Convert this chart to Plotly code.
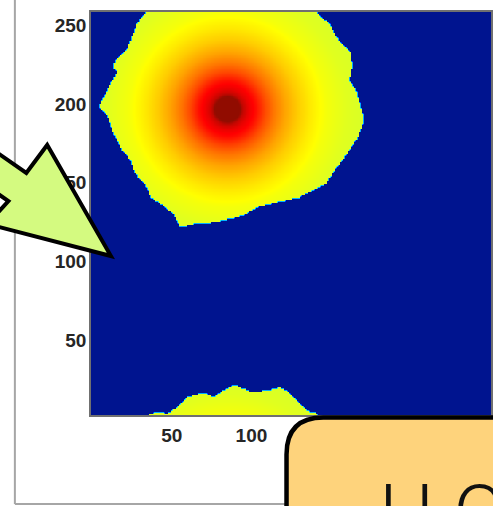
import numpy as np
import plotly.graph_objects as go

# size of the square field (cells per side)
N = 256

# axis ticks
tick_vals = [50, 100, 150, 200, 250]
tick_text = ["50", "100", "150", "200", "250"]

# location of the peak of the field
peak_x = 86.0
peak_y = 195.0

# radial profile: distance from the peak -> field value
profile_r = [0, 8, 10, 13, 18, 24, 29, 36, 44, 52, 62, 75, 95]
profile_v = [1.0, 1.0, 0.94, 0.90, 0.86, 0.80, 0.76, 0.715, 0.675, 0.645, 0.615, 0.595, 0.58]

# outline of the grown region; rows above 256 wrap round to the bottom
outline_x = [34.3, 29.3, 26.8, 23.0, 15.5, 14.3, 16.8, 11.1, 4.9, 10.5, 14.3, 18.6,
             24.9, 28.0, 35.5, 37.4, 43.6, 51.8, 56.1, 66.8, 76.8, 83.0, 91.8, 98.0,
             104.3, 114.3, 123.0, 131.1, 139.3, 148.0, 151.8, 158.0, 162.4, 166.8,
             170.5, 171.8, 168.6, 166.8, 162.4, 164.3, 163.6, 156.1, 153.0, 149.9,
             142.4, 141.75, 135.5, 131.1, 124.9, 118.6, 110.5, 101.75, 95.5, 90.5,
             85.5, 76.75, 73.0, 68.6, 60.5, 54.25, 48.6, 43.6, 37.4]
outline_y = [255.9, 250.2, 243.2, 233.7, 226.0, 221.6, 218.4, 208.9, 196.2, 191.1,
             179.7, 170.8, 162.5, 154.2, 145.4, 139.0, 135.2, 128.8, 120.0, 122.5,
             123.1, 124.4, 126.3, 128.8, 132.6, 135.2, 137.1, 139.0, 143.4, 147.9,
             154.2, 162.5, 168.9, 175.2, 183.5, 189.8, 200.6, 207.0, 213.3, 221.6,
             230.5, 238.7, 243.2, 249.5, 255.9, 257.8, 259.7, 264.1, 271.1, 274.3,
             272.4, 271.1, 273.7, 275.6, 273.7, 267.9, 270.5, 270.5, 267.9, 261.6,
             257.8, 258.4, 257.8]


def inside(px, py, vx, vy):
    """Even-odd point-in-polygon test on arrays of points."""
    res = np.zeros(px.shape, dtype=bool)
    n = len(vx)
    j = n - 1
    for i in range(n):
        xi, yi, xj, yj = vx[i], vy[i], vx[j], vy[j]
        if yi != yj:
            cross = (yi > py) != (yj > py)
            xint = (xj - xi) * (py - yi) / (yj - yi) + xi
            res ^= cross & (px < xint)
        j = i
    return res


xs = np.arange(1, N + 1)
ys = np.arange(1, N + 1)
X, Y = np.meshgrid(xs, ys)

z = np.zeros((N, N))
for shift in (0, N):
    Yw = Y + shift
    mask = inside(X, Yw, outline_x, outline_y)
    dist = np.hypot(X - peak_x, Yw - peak_y)
    z = np.where(mask, np.interp(dist, profile_r, profile_v), z)

jet = [
    [0.0, "rgb(0,20,143)"],
    [0.125, "rgb(0,0,255)"],
    [0.375, "rgb(0,255,255)"],
    [0.625, "rgb(255,255,0)"],
    [0.875, "rgb(255,0,0)"],
    [1.0, "rgb(145,12,0)"],
]

fig = go.Figure(
    go.Heatmap(
        x=xs, y=ys, z=z, colorscale=jet, zmin=0, zmax=1,
        showscale=False, zsmooth="best", hoverinfo="skip",
    )
)

# plot area in pixels
L, T, W, H = 91, 12, 402, 403


def px(x):
    return (x - L) / W


def py(y):
    return (T + H - y) / H


def path(points):
    return "M " + " L ".join(f"{px(a):.4f},{py(b):.4f}" for a, b in points) + " Z"


arrow_pts = [(-40, 127), (26, 173), (47, 145), (111, 256), (-13, 224), (8, 201), (-40, 168)]

# rounded callout box in the lower right
bx, by, rad = 287.5, 417.5, 37
box_path = (
    f"M {px(bx):.4f},{py(600):.4f} L {px(bx):.4f},{py(by + rad):.4f} "
    f"Q {px(bx):.4f},{py(by):.4f} {px(bx + rad):.4f},{py(by):.4f} "
    f"L {px(600):.4f},{py(by):.4f} L {px(600):.4f},{py(600):.4f} Z"
)

shapes = [
    # window frame edges
    dict(type="line", xref="paper", yref="paper", x0=px(14.5), x1=px(14.5),
         y0=py(-5), y1=py(504), line=dict(color="#a6a6a6", width=2), layer="above"),
    dict(type="line", xref="paper", yref="paper", x0=px(14.5), x1=px(600),
         y0=py(504), y1=py(504), line=dict(color="#a6a6a6", width=2), layer="above"),
    # pointer arrow
    dict(type="path", xref="paper", yref="paper", path=path(arrow_pts),
         fillcolor="rgb(212,250,128)", line=dict(color="black", width=4), layer="above"),
    # callout box
    dict(type="path", xref="paper", yref="paper", path=box_path,
         fillcolor="rgb(254,211,124)", line=dict(color="black", width=4.5), layer="above"),
]

tick_font = dict(family="Liberation Sans", size=19, color="#262626", weight="bold")
axis_common = dict(
    showgrid=False, zeroline=False, showline=True, mirror=True,
    linecolor="#707070", linewidth=1.5, ticks="",
    tickvals=tick_vals, ticktext=tick_text, tickfont=tick_font,
)

fig.update_layout(
    width=493, height=506,
    margin=dict(l=L, r=0, t=T, b=506 - T - H, pad=0),
    paper_bgcolor="white", plot_bgcolor="white",
    xaxis=dict(range=[0.5, 0.5 + W / 1.6], ticklabelstandoff=2, ticklabelshift=2,
               **axis_common),
    yaxis=dict(range=[0.5, 256.5], ticklabelstandoff=-1, ticklabelshift=3,
               **axis_common),
    shapes=shapes,
    annotations=[
        dict(text="H C", xref="paper", yref="paper", x=px(378), y=py(513),
             xanchor="left", yanchor="middle", showarrow=False,
             font=dict(family="Roboto", size=78, color="#111111", weight=300)),
    ],
)

fig.write_html("out.html")
